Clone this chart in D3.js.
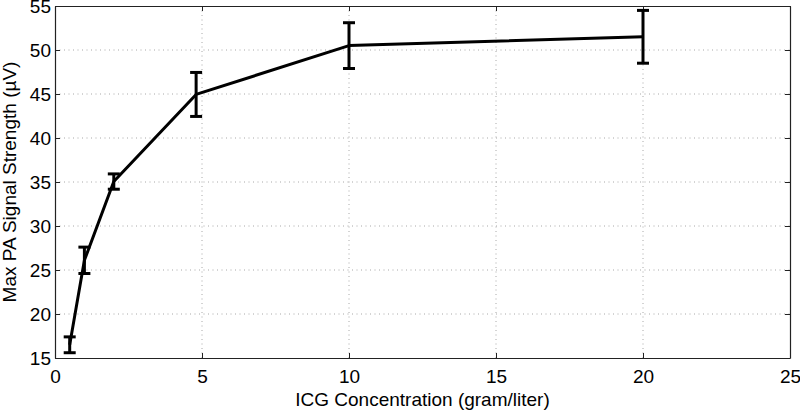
<!DOCTYPE html>
<html>
<head>
<meta charset="utf-8">
<script src="https://cdn.jsdelivr.net/npm/d3@7"></script>
<style>
  body { margin: 0; background: #fff; }
  text { font-family: "Liberation Sans", Arial, Helvetica, sans-serif; fill: #000; }
</style>
</head>
<body>
<svg id="chart" width="800" height="410"></svg>
<script>
const concentration = [0.5, 1, 2, 4.8, 10, 20];
const signal = [16.5, 26.1, 35.05, 44.95, 50.5, 51.5];
const errorVal = [0.9, 1.5, 0.87, 2.5, 2.6, 3.0];
const xTicks = [0, 5, 10, 15, 20, 25];
const yTicks = [15, 20, 25, 30, 35, 40, 45, 50, 55];
const xLabel = "ICG Concentration (gram/liter)";
const yLabel = "Max PA Signal Strength (\u00b5V)";

const svg = d3.select("#chart");
const mLeft = 55, mRight = 790, mTop = 6, mBottom = 358;

const x = d3.scaleLinear().domain([0, 25]).range([mLeft, mRight]);
const y = d3.scaleLinear().domain([15, 55]).range([mBottom, mTop]);

// grid
const grid = svg.append("g");
grid.selectAll(".gx").data(xTicks.filter(t => t > 0 && t < 25)).enter().append("line")
  .attr("x1", d => x(d)).attr("x2", d => x(d)).attr("y1", mTop).attr("y2", mBottom)
  .attr("stroke", "#a8a8a8").attr("stroke-width", 1).attr("stroke-dasharray", "1,3.5");
grid.selectAll(".gy").data(yTicks.filter(t => t > 15 && t < 55)).enter().append("line")
  .attr("x1", mLeft).attr("x2", mRight).attr("y1", d => y(d)).attr("y2", d => y(d))
  .attr("stroke", "#a8a8a8").attr("stroke-width", 1).attr("stroke-dasharray", "1,3.5");

// axes
const tickLen = 5;
const fs = 19;
const xAxisB = d3.axisBottom(x).tickValues(xTicks).tickSizeInner(-tickLen).tickSizeOuter(0).tickPadding(12);
const xAxisT = d3.axisTop(x).tickValues(xTicks).tickSizeInner(-tickLen).tickSizeOuter(0).tickFormat("");
const yAxisL = d3.axisLeft(y).tickValues(yTicks).tickSizeInner(-tickLen).tickSizeOuter(0).tickPadding(4);
const yAxisR = d3.axisRight(y).tickValues(yTicks).tickSizeInner(-tickLen).tickSizeOuter(0).tickFormat("");

function styleAxis(g) {
  g.select(".domain").attr("stroke", "#222").attr("stroke-width", 1.2);
  g.selectAll(".tick line").attr("stroke", "#222");
  g.selectAll(".tick text").attr("font-size", fs).attr("font-family", "Liberation Sans, Arial, sans-serif").attr("fill", "#000");
}
svg.append("g").attr("transform", `translate(0,${mBottom})`).call(xAxisB).call(styleAxis);
svg.append("g").attr("transform", `translate(0,${mTop})`).call(xAxisT).call(styleAxis);
svg.append("g").attr("transform", `translate(${mLeft},0)`).call(yAxisL).call(styleAxis);
svg.append("g").attr("transform", `translate(${mRight},0)`).call(yAxisR).call(styleAxis);

// data
const pts = concentration.map((c, i) => ({x: c, y: signal[i], e: errorVal[i]}));
svg.append("path").datum(pts)
  .attr("fill", "none").attr("stroke", "#000").attr("stroke-width", 3)
  .attr("stroke-linejoin", "round")
  .attr("d", d3.line().x(d => x(d.x)).y(d => y(d.y)));

const eb = svg.append("g").attr("stroke", "#000").attr("stroke-width", 3);
const cap = 6;
pts.forEach(d => {
  eb.append("line").attr("x1", x(d.x)).attr("x2", x(d.x)).attr("y1", y(d.y - d.e)).attr("y2", y(d.y + d.e));
  eb.append("line").attr("x1", x(d.x) - cap).attr("x2", x(d.x) + cap).attr("y1", y(d.y - d.e)).attr("y2", y(d.y - d.e));
  eb.append("line").attr("x1", x(d.x) - cap).attr("x2", x(d.x) + cap).attr("y1", y(d.y + d.e)).attr("y2", y(d.y + d.e));
});

// labels
svg.append("text").attr("x", (mLeft + mRight) / 2).attr("y", 406)
  .attr("text-anchor", "middle").attr("font-size", fs).text(xLabel);
svg.append("text").attr("transform", `translate(16,${(mTop + mBottom) / 2}) rotate(-90)`)
  .attr("text-anchor", "middle").attr("font-size", fs).text(yLabel);
</script>
</body>
</html>
